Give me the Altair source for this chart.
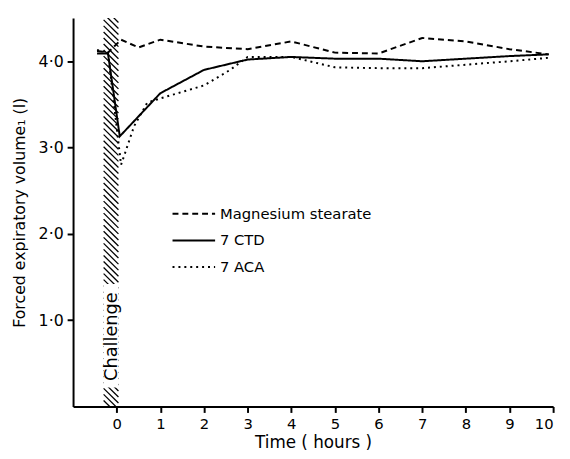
import altair as alt
import pandas as pd
import numpy as np

ms_x = [-0.45, -0.2, 0.1, 0.5, 1, 2, 3, 4, 5, 6, 7, 8, 9, 9.9]
ms_y = [4.12, 4.1, 4.25, 4.16, 4.25, 4.17, 4.14, 4.23, 4.1, 4.09, 4.27, 4.23, 4.14, 4.08]
ctd_x = [-0.45, -0.2, 0.07, 1, 2, 3, 4, 5, 6, 7, 8, 9, 9.9]
ctd_y = [4.09, 4.09, 3.13, 3.63, 3.9, 4.02, 4.05, 4.03, 4.03, 4.0, 4.03, 4.06, 4.08]
aca_x = [-0.45, -0.2, 0.1, 0.4, 0.7, 1, 2, 2.6, 3, 4, 5, 6, 7, 8, 9, 9.9]
aca_y = [4.13, 4.1, 2.8, 3.25, 3.52, 3.57, 3.72, 3.9, 4.05, 4.05, 3.93, 3.92, 3.92, 3.96, 4.0, 4.04]
series = ["Magnesium stearate", "7 CTD", "7 ACA"]
x_ticks = list(range(0, 11))
y_ticks = [1, 2, 3, 4]

rows = []
for name, xs, ys in zip(series, [ms_x, ctd_x, aca_x], [ms_y, ctd_y, aca_y]):
    for i, (a, b) in enumerate(zip(xs, ys)):
        rows.append({"series": name, "t": a, "v": b, "o": i})
df = pd.DataFrame(rows)

band_x0, band_x1 = -0.3, 0.04
hy = np.arange(0.0, 4.8, 0.07)
hatch = pd.DataFrame({"x": band_x0, "x2": band_x1, "y": hy, "y2": hy - 0.17})

xs = alt.Scale(domain=[-1, 10], nice=False, zero=False)
ys = alt.Scale(domain=[0, 4.5], nice=False, zero=True)

hatch_layer = alt.Chart(hatch).mark_rule(color="black", strokeWidth=1.3, clip=True).encode(
    x=alt.X("x:Q", scale=xs), x2="x2", y=alt.Y("y:Q", scale=ys), y2="y2"
)

white = alt.Chart(pd.DataFrame({"x": [band_x0], "x2": [band_x1], "y": [0.22], "y2": [1.42]})).mark_rect(
    color="white"
).encode(x=alt.X("x:Q", scale=xs), x2="x2", y=alt.Y("y:Q", scale=ys), y2="y2")

chal = alt.Chart(pd.DataFrame({"x": [-0.11], "y": [0.81], "s": ["Challenge"]})).mark_text(
    angle=270, fontSize=18, font="DejaVu Sans", color="black"
).encode(x=alt.X("x:Q", scale=xs), y=alt.Y("y:Q", scale=ys), text="s:N")

lines = alt.Chart(df).mark_line(color="black", strokeWidth=2).encode(
    x=alt.X("t:Q", scale=xs, title="Time ( hours )",
            axis=alt.Axis(values=x_ticks, format="d", labelFontSize=15, titleFontSize=17)),
    y=alt.Y("v:Q", scale=ys, title="Forced expiratory volume₁ (l)",
            axis=alt.Axis(values=y_ticks, labelFontSize=16, titleFontSize=16, titlePadding=11,
                          labelExpr="replace(format(datum.value, '.1f'), '.', '·')")),
    order="o:Q",
    strokeDash=alt.StrokeDash(
        "series:N",
        scale=alt.Scale(domain=series, range=[[6, 4], [1, 0], [2, 4]]),
        legend=alt.Legend(title=None, orient="none", legendX=108, legendY=184,
                          symbolType="M-1.6,0H1.6", symbolSize=729, symbolStrokeWidth=2,
                          symbolStrokeColor="black", symbolFillColor="transparent",
                          labelFontSize=15,
                          labelFont="DejaVu Sans", labelColor="black",
                          rowPadding=4, labelOffset=12),
    ),
)

chart = alt.layer(hatch_layer, white, chal, lines).properties(
    width=487, height=394,
    autosize=alt.AutoSizeParams(type="none"),
    padding={"left": 66, "top": 7, "right": 9, "bottom": 50},
).configure_view(stroke=None).configure_axis(
    grid=False, domainColor="black", domainWidth=2, tickColor="black", tickWidth=2,
    tickSize=6, labelColor="black", titleColor="black",
    labelFont="DejaVu Sans", titleFont="DejaVu Sans",
    titleFontWeight="normal", labelPadding=4,
)

chart.save("out.html", embed_options={"renderer": "svg", "actions": False})
